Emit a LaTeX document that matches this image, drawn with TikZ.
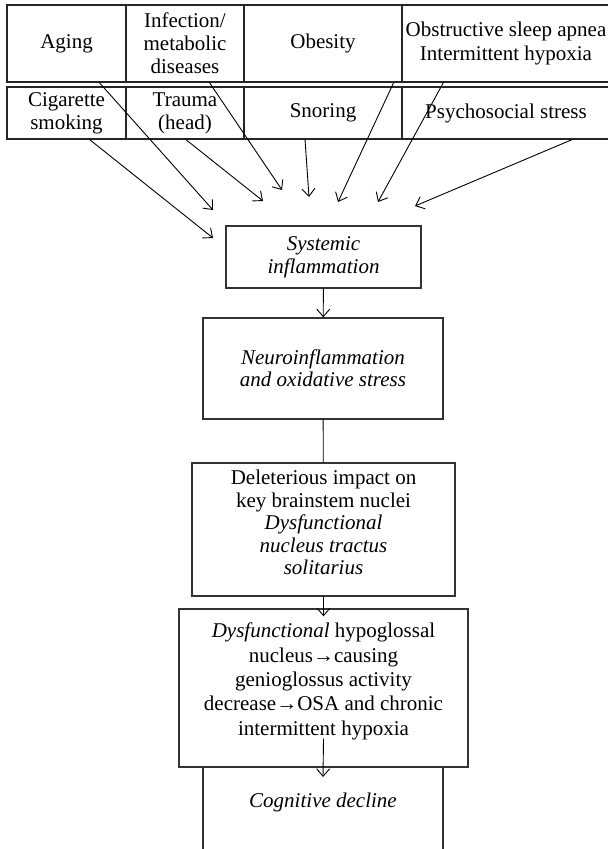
\documentclass[tikz,border=0pt]{standalone}
\usepackage{fontspec}
\setmainfont{Liberation Serif}
\usetikzlibrary{arrows.meta}

\begin{document}
\begin{tikzpicture}[x=0.5pt, y=-0.5pt, line width=0.65pt,
    font=\fontsize{10.5}{11.6}\selectfont,
    cell/.style = {draw=black!85, rectangle, align=center, inner sep=1pt},
    rowA/.style = {cell, minimum height=38.5pt},
    rowB/.style = {cell, minimum height=26pt},
    stage/.style = {draw=black!80, rectangle, align=center, inner sep=2pt},
    arr/.style = {-{Straight Barb[length=3.8pt,width=6.5pt]}, line width=0.45pt}]

	\useasboundingbox (0,0) rectangle (608,849);

	% risk factors
	\node[rowA, minimum width=59.5pt] (aging) at (66.5,43.5) {Aging};
	\node[rowA, minimum width=59pt] (infect) at (185,43.5) {Infection/\\metabolic\\diseases};
	\node[rowA, minimum width=79pt] (obesity) at (323,43.5) {Obesity};
	\node[rowA, minimum width=104pt] (osa) at (506,43.5) {Obstructive sleep apnea\\Intermittent hypoxia};

	\node[rowB, minimum width=59.5pt] (smoke) at (66.5,113) {Cigarette\\smoking};
	\node[rowB, minimum width=59pt] (trauma) at (185,113) {Trauma\\(head)};
	\node[rowB, minimum width=79pt] (snore) at (323,113) {Snoring};
	\node[rowB, minimum width=104pt] (stress) at (506,113) {Psychosocial stress};

	% arrow tips
	\coordinate (tAging) at (213,210);
	\coordinate (tSmoke) at (213,238);
	\coordinate (tTrauma) at (263,201);
	\coordinate (tInfect) at (282,190);
	\coordinate (tSnore) at (309,197);
	\coordinate (tObesity) at (338,202);
	\coordinate (tOsa) at (378,202);
	\coordinate (tStress) at (415,206);

	\draw[arr] (aging.-50) -- (tAging);
	\draw[arr] (smoke.-49) -- (tSmoke);
	\draw[arr] (trauma.-88) -- (tTrauma);
	\draw[arr] (infect.-58) -- (tInfect);
	\draw[arr] (snore.-124) -- (tSnore);
	\draw[arr] (obesity.-29) -- (tObesity);
	\draw[arr] (osa.-148) -- (tOsa);
	\draw[arr] (stress.-22) -- (tStress);

	% pathway
	\node[stage, minimum width=97.5pt, minimum height=31pt] (sys) at (323.5,257) {\itshape Systemic\\\itshape inflammation};
	\node[stage, minimum width=120pt, minimum height=50.5pt, font=\fontsize{10.5}{11.2}\selectfont] (neuro) at (323,368.5) {\itshape Neuroinflammation\\\itshape and oxidative stress};
	\node[stage, minimum width=131.5pt, minimum height=66.5pt, text depth=7pt, font=\fontsize{10.5}{11.3}\selectfont] (nts) at (323.5,529.5) {Deleterious impact on\\key brainstem nuclei\\\itshape Dysfunctional\\\itshape nucleus tractus\\\itshape solitarius};
	\node[stage, minimum width=144.5pt, minimum height=79pt, text depth=9pt, font=\fontsize{10.5}{12.2}\selectfont] (hypo) at (323.5,688) {\textit{Dysfunctional} hypoglossal\\nucleus→causing\\genioglossus activity\\decrease→OSA and chronic\\intermittent hypoxia};
	\node[stage, anchor=north, minimum width=120pt, inner ysep=12.5pt, text depth=50pt] (cog) at (323,767) {\itshape Cognitive decline};

	\draw[arr] (sys) -- (neuro);
	\draw[line width=0.45pt] (neuro) -- (nts);
	\draw[arr] (nts.south) -- ([yshift=-4pt]hypo.north);
	\draw[arr] ([yshift=14.5pt]hypo.south) -- ([yshift=-5pt]cog.north);
\end{tikzpicture}
\end{document}
